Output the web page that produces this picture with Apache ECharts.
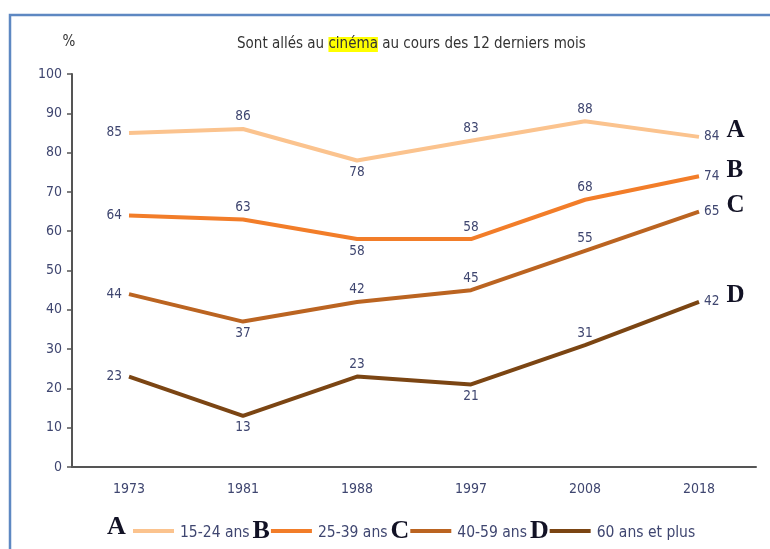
<!DOCTYPE html>
<html>
<head>
<meta charset="utf-8">
<script src="https://cdn.jsdelivr.net/npm/echarts@6/dist/echarts.min.js"></script>
<style>
  html, body { margin: 0; padding: 0; background: #fff; }
  #chart { width: 770px; height: 549px; }
</style>
</head>
<body>
<div id="chart"></div>
<script>
// valeurs
var years = ['1973', '1981', '1988', '1997', '2008', '2018'];
var age1524 = [85, 86, 78, 83, 88, 84];
var age2539 = [64, 63, 58, 58, 68, 74];
var age4059 = [44, 37, 42, 45, 55, 65];
var age60plus = [23, 13, 23, 21, 31, 42];
var seriesNames = ['15-24 ans', '25-39 ans', '40-59 ans', '60 ans et plus'];
var letters = ['A', 'B', 'C', 'D'];

// où mettre l'étiquette de chaque point
var labelPos = [
    ['left', 'top', 'bottom', 'top', 'top', 'right'],
    ['left', 'top', 'bottom', 'top', 'top', 'right'],
    ['left', 'bottom', 'top', 'top', 'top', 'right'],
    ['left', 'bottom', 'top', 'bottom', 'top', 'right']
];
var colors = ['#fbc38e', '#f27d29', '#bb6421', '#7b4513'];
var narrow = "'Liberation Sans Narrow', 'DejaVu Sans Condensed', sans-serif";
var serif = "'Liberation Serif', 'DejaVu Serif', serif";
var labelColor = '#3f4670';

var myChart = echarts.init(document.getElementById('chart'));

function makeSeries(values, i) {
    return {
        name: seriesNames[i],
        type: 'line',
        symbol: 'circle',
        symbolSize: 0.1,
        showSymbol: true,
        lineStyle: { width: 4, color: colors[i] },
        itemStyle: { color: colors[i] },
        data: values.map(function (v, k) {
            return {
                value: v,
                label: { position: labelPos[i][k], distance: k === 0 ? 7 : 5 }
            };
        }),
        label: {
            show: true,
            fontFamily: narrow,
            fontSize: 13.5,
            color: labelColor,
            formatter: function (p) {
                if (p.dataIndex === years.length - 1) {
                    return '{v|' + p.value + '}{l|' + letters[i] + '}';
                }
                return p.value;
            },
            rich: {
                v: { fontFamily: narrow, fontSize: 13.5, color: labelColor },
                l: { fontFamily: serif, fontWeight: 'bold', fontSize: 25, color: '#121225', padding: [0, 0, 12, 7] }
            }
        }
    };
}

option = {
    backgroundColor: '#fff',
    animation: false,
    title: {
        text: '{a|Sont allés au }{h|cinéma}{a| au cours des 12 derniers mois}',
        left: 232,
        top: 32,
        textStyle: {
            fontWeight: 'normal',
            rich: {
                a: { fontFamily: narrow, fontSize: 15, fontWeight: 'normal', color: '#333' },
                h: { fontFamily: narrow, fontSize: 15, fontWeight: 'normal', color: '#333', backgroundColor: '#ffff00' }
            }
        }
    },
    grid: { left: 72, right: 14, top: 74, bottom: 82 },
    xAxis: {
        type: 'category',
        data: years,
        boundaryGap: true,
        axisLine: { lineStyle: { color: '#555', width: 2 } },
        axisTick: { length: 6, lineStyle: { color: '#555', width: 1.5 } },
        axisLabel: { fontFamily: narrow, fontSize: 14, color: labelColor, margin: 15 }
    },
    yAxis: {
        type: 'value',
        min: 0,
        max: 100,
        interval: 10,
        name: '%',
        nameLocation: 'end',
        nameGap: 24,
        nameTextStyle: { fontFamily: narrow, fontSize: 15, color: '#333', padding: [0, 6, 0, 0] },
        splitLine: { show: false },
        axisLine: { show: true, lineStyle: { color: '#555', width: 2 } },
        axisTick: { show: true, length: 5, lineStyle: { color: '#555', width: 1.5 } },
        axisLabel: { fontFamily: narrow, fontSize: 14, color: labelColor, margin: 10 }
    },
    legend: {
        left: 133,
        top: 518,
        padding: 0,
        icon: 'rect',
        itemWidth: 41,
        itemHeight: 4,
        itemGap: 1,
        data: seriesNames,
        formatter: function (name) {
            var i = seriesNames.indexOf(name);
            var s = '{t|' + name + '}';
            if (i < letters.length - 1) s += '{l|' + letters[i + 1] + '}';
            return s;
        },
        textStyle: {
            rich: {
                t: { fontFamily: narrow, fontSize: 15.5, color: labelColor, padding: [4, 0, 0, 1] },
                l: { fontFamily: serif, fontWeight: 'bold', fontSize: 26, color: '#121225', padding: [0, 3, 0, 3] }
            }
        }
    },
    graphic: [
        {
            type: 'polyline',
            shape: { points: [[10, 549], [10, 15], [770, 15]] },
            style: { stroke: '#5e88c2', lineWidth: 2.5, fill: null }
        },
        {
            type: 'text',
            left: 107,
            top: 514,
            style: { text: letters[0], font: 'bold 26px ' + serif, fill: '#121225' }
        }
    ],
    series: [age1524, age2539, age4059, age60plus].map(makeSeries)
};

myChart.setOption(option);
</script>
</body>
</html>
